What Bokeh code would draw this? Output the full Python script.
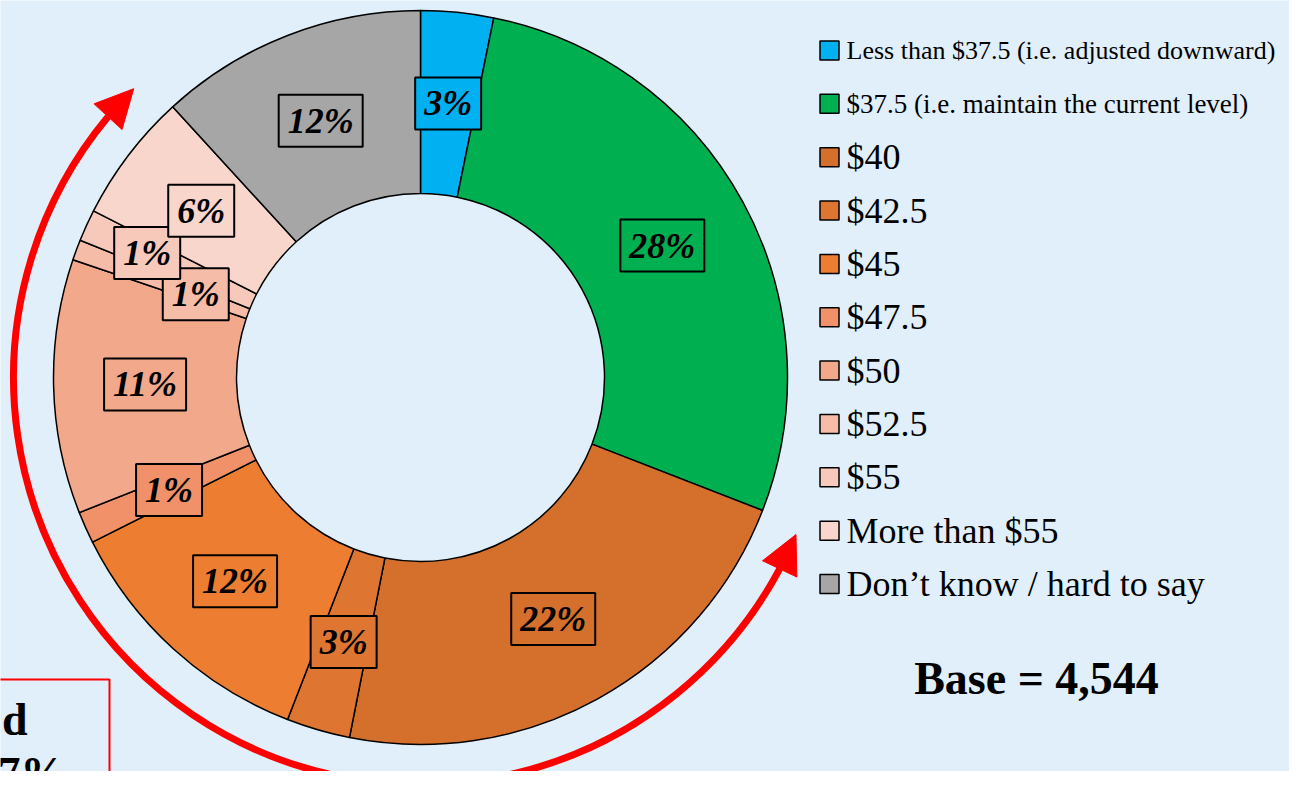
import math
from bokeh.plotting import figure
from bokeh.models import Range1d, Arrow, NormalHead, ColumnDataSource
from bokeh.core.properties import value
from bokeh.embed import file_html
from bokeh.resources import INLINE

# ---------------- data ----------------
categories = [
    "Less than $37.5 (i.e. adjusted downward)",
    "$37.5 (i.e. maintain the current level)",
    "$40", "$42.5", "$45", "$47.5", "$50", "$52.5", "$55",
    "More than $55",
    "Don\u2019t know / hard to say",
]
shares = [3.2, 27.7, 22.2, 2.8, 11.7, 1.4, 11.2, 0.9, 1.4, 5.7, 11.8]
labels = ["3%", "28%", "22%", "3%", "12%", "1%", "11%", "1%", "1%", "6%", "12%"]
base_text = "Base = 4,544"
box_line1 = "d"
box_line2 = "7%"

# ---------------- style ----------------
colors = ["#00B0F0", "#00B050", "#D4702B", "#DE7631", "#ED7D31", "#F0916A",
          "#F2A88A", "#F5BCA7", "#F7C9BA", "#F8D6CB", "#A6A6A6"]
label_r_factor = [1, 1, 1, 1, 1, 1, 1, 0.87, 1.09, 1, 1]
bg = "#E0EFFA"
serif = value("Liberation Serif")

W, H = 1289, 771
p = figure(width=W, height=H, output_backend="svg", toolbar_location=None,
           x_range=Range1d(0, W), y_range=Range1d(-H, 0),
           min_border=0, background_fill_color=bg, border_fill_color=bg,
           outline_line_color=None)
p.axis.visible = False
p.grid.visible = False

cx, cy = 420, -377
r_out, r_in = 367, 184
r_mid = (r_out + r_in) / 2

total = sum(shares)
starts, ends, lx, ly = [], [], [], []
cum = 0.0
for i, s in enumerate(shares):
    a0 = math.pi / 2 - 2 * math.pi * cum / total
    a1 = math.pi / 2 - 2 * math.pi * (cum + s) / total
    starts.append(a0)
    ends.append(a1)
    am = (a0 + a1) / 2
    rr = r_mid * label_r_factor[i]
    lx.append(cx + rr * math.cos(am))
    ly.append(cy + rr * math.sin(am))
    cum += s

src = ColumnDataSource(dict(start=starts, end=ends, color=colors, lx=lx, ly=ly,
                            label=labels))
p.annular_wedge(x=cx, y=cy, inner_radius=r_in, outer_radius=r_out,
                start_angle="start", end_angle="end", direction="clock",
                fill_color="color", line_color="black", line_width=1.5,
                source=src)

p.text(x="lx", y="ly", text="label", source=src, text_align="center",
       text_baseline="middle", text_font=serif, text_font_style="bold italic",
       text_font_size="36px", text_color="black",
       background_fill_color="color", border_line_color="black",
       border_line_width=2, padding=(9, 6))

# ---------------- red arc with arrow heads ----------------
r_arc = 407
t_top = math.radians(134.8)
t_right = math.radians(-22.7 + 360)
head = 38
off = head / r_arc
p.arc(x=cx, y=cy, radius=r_arc, start_angle=t_top + off, end_angle=t_right - off,
      direction="anticlock", line_color="red", line_width=7)
for tip, base in [(t_top, t_top + off), (t_right, t_right - off)]:
    p.add_layout(Arrow(
        x_start=cx + r_arc * math.cos(base), y_start=cy + r_arc * math.sin(base),
        x_end=cx + r_arc * math.cos(tip), y_end=cy + r_arc * math.sin(tip),
        line_alpha=0,
        end=NormalHead(size=head, fill_color="red", line_color="red", line_width=1)))

# ---------------- legend ----------------
row_y = [-(50 + 53.35 * i) for i in range(len(categories))]
leg_sizes = ["26px", "27px"] + ["36px"] * (len(categories) - 2)
leg = ColumnDataSource(dict(y=row_y, color=colors, cat=categories, size=leg_sizes))
p.rect(x=829, y="y", width=19, height=19, fill_color="color", line_color="black",
       line_width=1.5, source=leg)
p.text(x=846, y="y", text="cat", source=leg, text_align="left",
       text_baseline="middle", text_font=serif, text_font_size="size",
       text_color="black")

p.text(x=[1036], y=[-678], text=[base_text], text_align="center",
       text_baseline="middle", text_font=serif, text_font_style="bold",
       text_font_size="46px", text_color="black")

# ---------------- red note box (partly outside the view) ----------------
p.quad(left=-40, right=109, top=-679, bottom=-840, fill_alpha=0,
       line_color="#FF0000", line_width=2)
p.text(x=[27], y=[-719], text=[box_line1], text_align="right",
       text_baseline="middle", text_font=serif, text_font_style="bold",
       text_font_size="46px", text_color="black")
p.text(x=[66], y=[-747], text=[box_line2], text_align="right",
       text_baseline="top", text_font=serif, text_font_style="bold",
       text_font_size="46px", text_color="black")

open("out.html", "w").write(file_html(p, INLINE))
